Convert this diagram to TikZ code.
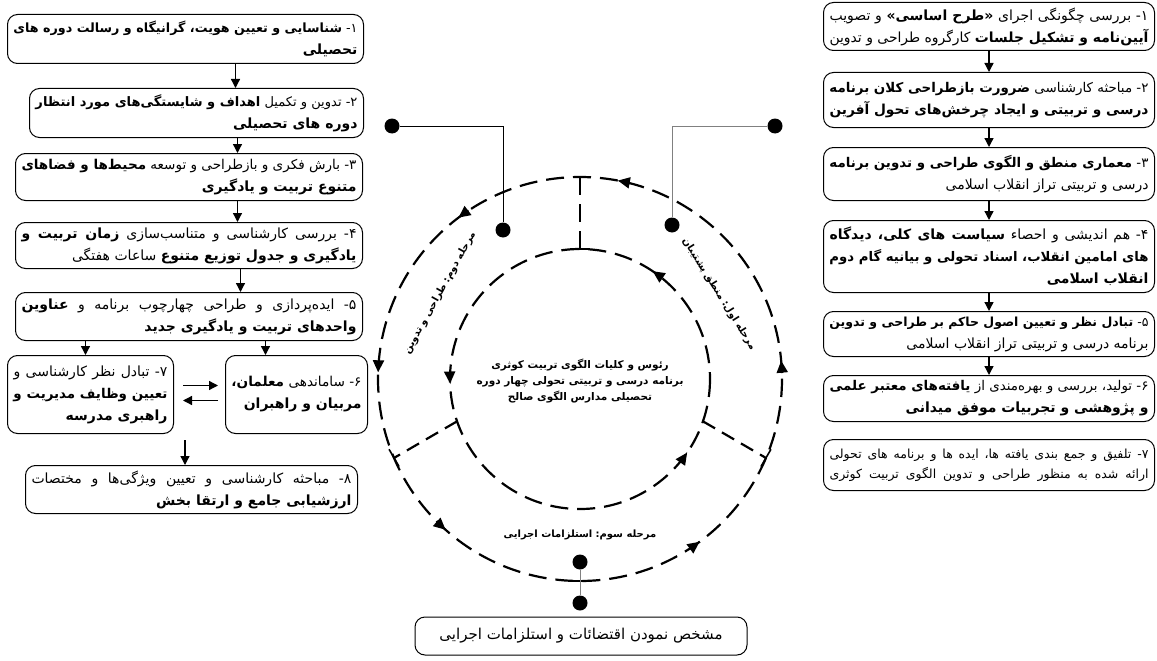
\documentclass[tikz,border=0pt]{standalone}
\usepackage{fontspec}
\usetikzlibrary{arrows.meta,calc}
\TeXXeTstate=1
\newfontfamily\fa[Script=Arabic]{DejaVu Sans}
\newcommand{\JL}[2]{\setbox0\hbox{\beginR #2\endR}%
 \ifdim\wd0>#1\relax\hbox to #1{\hss\resizebox{#1}{!}{\box0}}\else\hbox to #1{\beginR #2\endR}\fi}
\newcommand{\RL}[2]{\setbox0\hbox{\beginR #2\endR}%
 \ifdim\wd0>#1\relax\hbox to #1{\hss\resizebox{#1}{!}{\box0}}\else\hbox to #1{\hfill\box0}\fi}
\newcommand{\pd}{\hbox{-}}
\newcommand{\pc}{\hbox{،}}
\newcommand{\pcol}{\hbox{:}}
\newcommand{\bd}[1]{{\bfseries #1}}
\begin{document}
\begin{tikzpicture}[x=1pt,y=-1pt,
 box/.style={draw, line width=1pt, rounded corners=10pt, inner sep=0pt, anchor=north west, font=\fa\fontsize{14}{22}\selectfont},
 arr/.style={line width=1.3pt, -{Triangle[length=9pt,width=9pt]}},
 dashc/.style={line width=2.2pt, dash pattern=on 18pt off 9pt},
 carr/.style={line width=2pt, solid, -{Triangle[length=12pt,width=11pt]}},
 dot/.style={circle, fill=black, minimum size=15pt, inner sep=0pt},
 lab/.style={font=\fa\bfseries\fontsize{10}{14}\selectfont, inner sep=0pt},
]
\useasboundingbox (0,0) rectangle (1157,661);

% ---------- left column ----------
\node[box, minimum width=356, minimum height=49] (L1) at (7,14) {\vbox{%
 \JL{344pt}{۱\pd{} \bd{شناسایی و تعیین هویت\pc{} گرانیگاه و رسالت دوره های}}%
 \RL{344pt}{\bd{تحصیلی}}}};
\node[box, minimum width=334, minimum height=49] (L2) at (29,88) {\vbox{%
 \JL{322pt}{۲\pd{} تدوین و تکمیل \bd{اهداف و شایستگی‌های مورد انتظار}}%
 \RL{322pt}{\bd{دوره های تحصیلی}}}};
\node[box, minimum width=347, minimum height=47] (L3) at (15,153) {\vbox{%
 \JL{335pt}{۳\pd{} بارش فکری و بازطراحی و توسعه \bd{محیط‌ها و فضاهای}}%
 \RL{335pt}{\bd{متنوع تربیت و یادگیری}}}};
\node[box, minimum width=347, minimum height=46] (L4) at (15,222) {\vbox{%
 \JL{335pt}{۴\pd{} بررسی کارشناسی و متناسب‌سازی \bd{زمان تربیت و}}%
 \RL{335pt}{\bd{یادگیری و جدول توزیع متنوع} ساعات هفتگی}}};
\node[box, minimum width=347, minimum height=48] (L5) at (15,292) {\vbox{%
 \JL{335pt}{۵\pd{} ایده‌پردازی و طراحی چهارچوب برنامه و \bd{عناوین}}%
 \RL{335pt}{\bd{واحدهای تربیت و یادگیری جدید}}}};
\node[box, minimum width=166, minimum height=78] (L7) at (7,355) {\vbox{%
 \JL{154pt}{۷\pd{} تبادل نظر کارشناسی و}%
 \JL{154pt}{\bd{تعیین وظایف مدیریت و}}%
 \RL{154pt}{\bd{راهبری مدرسه}}}};
\node[box, minimum width=142, minimum height=78] (L6) at (225,355) {\vbox{%
 \RL{130pt}{۶\pd{} ساماندهی \bd{معلمان\pc{}}}%
 \RL{130pt}{\bd{مربیان و راهبران}}}};
\node[box, minimum width=332, minimum height=48] (L8) at (25,465) {\vbox{%
 \JL{320pt}{۸\pd{} مباحثه کارشناسی و تعیین ویژگی‌ها و مختصات}%
 \RL{320pt}{\bd{ارزشیابی جامع و ارتقا بخش}}}};

\draw[arr] ([xshift=50pt]L1.south) -- ([xshift=50pt]L1.south |- L2.north);
\draw[arr] ([xshift=41pt]L2.south) -- ([xshift=41pt]L2.south |- L3.north);
\draw[arr] ([xshift=48.5pt]L3.south) -- ([xshift=48.5pt]L3.south |- L4.north);
\draw[arr] ([xshift=51.5pt]L4.south) -- ([xshift=51.5pt]L4.south |- L5.north);
\draw[arr] ([xshift=-103.5pt]L5.south) -- ([xshift=-103.5pt]L5.south |- L7.north);
\draw[arr] ([xshift=76.5pt]L5.south) -- ([xshift=76.5pt]L5.south |- L6.north);
\draw[arr] ([xshift=9pt,yshift=9pt]L7.east) -- ([xshift=-7pt,yshift=9pt]L6.west);
\draw[arr] ([xshift=-7pt,yshift=-6pt]L6.west) -- ([xshift=9pt,yshift=-6pt]L7.east);
\coordinate (c8) at (185,440);
\draw[arr] (c8) -- (c8 |- L8.north);

% ---------- right column ----------
\node[box, minimum width=331, minimum height=48] (R1) at (823,2) {\vbox{%
 \JL{319pt}{۱\pd{} بررسی چگونگی اجرای \bd{\hbox{«}طرح اساسی\hbox{»}} و تصویب}%
 \JL{319pt}{\bd{آیین‌نامه و تشکیل جلسات} کارگروه طراحی و تدوین}}};
\node[box, minimum width=331, minimum height=55] (R2) at (823,72) {\vbox{%
 \JL{319pt}{۲\pd{} مباحثه کارشناسی \bd{ضرورت بازطراحی کلان برنامه}}%
 \JL{319pt}{\bd{درسی و تربیتی و ایجاد چرخش‌های تحول آفرین}}}};
\node[box, minimum width=331, minimum height=53] (R3) at (823,147) {\vbox{%
 \JL{319pt}{۳\pd{} \bd{معماری منطق و الگوی طراحی و تدوین برنامه}}%
 \RL{319pt}{درسی و تربیتی تراز انقلاب اسلامی}}};
\node[box, minimum width=331, minimum height=72] (R4) at (823,220) {\vbox{%
 \JL{319pt}{۴\pd{} هم اندیشی و احصاء \bd{سیاست های کلی\pc{} دیدگاه}}%
 \JL{319pt}{\bd{های امامین انقلاب\pc{} اسناد تحولی و بیانیه گام دوم}}%
 \RL{319pt}{\bd{انقلاب اسلامی}}}};
\node[box, minimum width=331, minimum height=45] (R5) at (823,311) {\vbox{%
 \JL{319pt}{۵\pd{} \bd{تبادل نظر و تعیین اصول حاکم بر طراحی و تدوین}}%
 \RL{319pt}{برنامه درسی و تربیتی تراز انقلاب اسلامی}}};
\node[box, minimum width=331, minimum height=46] (R6) at (823,375) {\vbox{%
 \JL{319pt}{۶\pd{} تولید\pc{} بررسی و بهره‌مندی از \bd{یافته‌های معتبر علمی}}%
 \RL{319pt}{\bd{و پژوهشی و تجربیات موفق میدانی}}}};
\node[box, minimum width=331, minimum height=51, font=\fa\fontsize{12.5}{20}\selectfont] (R7) at (823,439) {\vbox{%
 \JL{319pt}{۷\pd{} تلفیق و جمع بندی یافته ها\pc{} ایده ها و برنامه های تحولی}%
 \JL{319pt}{ارائه شده به منظور طراحی و تدوین الگوی تربیت کوثری}}};

\draw[arr] (R1.south) -- (R2.north);
\draw[arr] (R2.south) -- (R3.north);
\draw[arr] (R3.south) -- (R4.north);
\draw[arr] (R4.south) -- (R5.north);
\draw[arr] (R5.south) -- (R6.north);

% ---------- cycle ----------
\coordinate (O) at (580,379);
\draw[dashc] (O) circle[radius=202];
\draw[dashc] (O) circle[radius=130];
\foreach \a in {75.7,123.5,174.6,1.7,224.8,302.8}{%
 \draw[carr] ($(O)+(-\a:202)$) arc[start angle=-\a, delta angle=-3.5, radius=202];}
\foreach \a in {51,177,320.5}{%
 \draw[carr] ($(O)+(-\a:130)$) arc[start angle=-\a, delta angle=-5, radius=130];}

\coordinate (ti) at ($(O)+(-90:130)$);
\coordinate (to) at ($(O)+(-90:202)$);
\draw[dashc] (to) -- (ti);
\draw[line width=1.6pt] ($(ti)+(-10,0)$) -- ($(ti)+(10,0)$);
\coordinate (li) at ($(O)+(-199:130)$);
\coordinate (lo) at ($(O)+(-203:202)$);
\draw[dashc, dash pattern=on 14pt off 8pt] (li) -- (lo);
\draw[line width=1.6pt] ($(lo)!10pt!90:(li)$) -- ($(lo)!10pt!-90:(li)$);
\coordinate (ri) at ($(O)+(19:130)$);
\coordinate (ro) at ($(O)+(23:202)$);
\draw[dashc, dash pattern=on 14pt off 8pt] (ri) -- (ro);
\draw[line width=1.6pt] ($(ro)!10pt!90:(ri)$) -- ($(ro)!10pt!-90:(ri)$);
\coordinate (bo) at ($(O)+(90:202)$);
\draw[line width=1.6pt] ($(bo)+(-10,0)$) -- ($(bo)+(10,0)$);

\node[dot] (b1) at (580,562) {};
\node[dot] (b2) at (580,603) {};
\draw[gray, line width=1pt] (b1) -- (b2);

\node[dot] (p1) at (392,126) {};
\node[dot] (p2) at (503,230) {};
\draw[line width=1pt] (p1) -| (p2);
\node[dot] (p3) at (775,126) {};
\node[dot] (p4) at (672,225) {};
\draw[line width=1pt, gray] (p3) -| (p4);

\node[lab, rotate=-58] (s1) at (719,294) {\beginR مرحله اول\pcol{} منطق پشتیبان\endR};
\node[lab, rotate=61] (s2) at (440,293) {\beginR مرحله دوم\pcol{} طراحی و تدوین\endR};
\node[font=\fa\fontsize{10}{14}\selectfont] (s3) at (580,535) {\beginR \bd{مرحله سوم\pcol{}} \bd{استلزامات اجرایی}\endR};

\node[font=\fa\bfseries\fontsize{10.5}{16}\selectfont, align=center] (ctr) at (580,381)
 {\beginR رئوس و کلیات الگوی تربیت کوثری\endR\\\beginR برنامه درسی و تربیتی تحولی چهار دوره\endR\\\beginR تحصیلی مدارس الگوی صالح\endR};

\node[box, anchor=center, minimum width=332, minimum height=38, font=\fa\fontsize{15}{18}\selectfont] (BB) at (581,636)
 {\beginR مشخص نمودن اقتضائات و استلزامات اجرایی\endR};
\end{tikzpicture}
\end{document}
